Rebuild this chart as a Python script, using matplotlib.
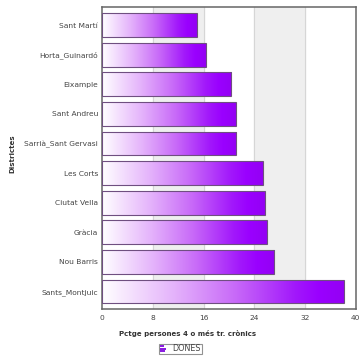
import numpy as np
import matplotlib
matplotlib.use("Agg")
import matplotlib.pyplot as plt
from matplotlib.colors import LinearSegmentedColormap
from matplotlib.patches import Rectangle
from matplotlib.legend_handler import HandlerBase

# Data: share of women with 4 or more chronic conditions, by district
districts = ["Sant Martí", "Horta_Guinardó", "Eixample", "Sant Andreu",
             "Sarrià_Sant Gervasi", "Les Corts", "Ciutat Vella", "Gràcia",
             "Nou Barris", "Sants_Montjuic"]
dones = [15.0, 16.4, 20.4, 21.1, 21.2, 25.4, 25.7, 26.0, 27.2, 38.2]
xticks = [0, 8, 16, 24, 32, 40]

plt.rcParams["font.family"] = ["DejaVu Sans"]

fig = plt.figure(figsize=(3.6, 3.61), dpi=100)
ax = fig.add_axes([0.284, 0.1432, 0.7035, 0.8366])

# horizontal gradient white -> violet applied along each bar
grad = LinearSegmentedColormap.from_list(
    "violet", [(0.0, "#ffffff"), (0.3, "#e4b2fb"), (0.55, "#c86af8"),
               (0.8, "#a218fb"), (0.9, "#9a00ff"), (1.0, "#9400f4")])

# alternating bands and vertical grid
for lo, hi in [(8, 16), (24, 32)]:
    ax.axvspan(lo, hi, color="#efefef", zorder=0)
for t in xticks[1:-1]:
    ax.axvline(t, color="#d6d6d6", lw=0.8, zorder=0.5)

ypos = np.arange(len(districts))
bars = ax.barh(ypos, dones, height=0.8, facecolor="none",
               edgecolor="#6f4f80", linewidth=0.8, zorder=3)

g = np.linspace(0, 1, 256).reshape(1, -1)
for p in bars.patches:
    x0, y0 = p.get_x(), p.get_y()
    w, h = p.get_width(), p.get_height()
    im = ax.imshow(g, cmap=grad, aspect="auto", interpolation="bicubic",
                   extent=[x0, x0 + w, y0 + h, y0], zorder=2)
    im.set_clip_path(p)

ax.set_xlim(0, 40)
ax.set_ylim(len(districts) - 0.4, -0.6)
ax.set_xticks(xticks)
ax.set_xticklabels([str(t) for t in xticks])
ax.set_yticks(ypos)
ax.set_yticklabels(districts)
ax.tick_params(axis="both", length=0, labelsize=5.4, colors="#444444")
ax.tick_params(axis="x", pad=4)
ax.tick_params(axis="y", pad=3)
for s in ax.spines.values():
    s.set_color("#666666")
    s.set_linewidth(1.1)

ax.set_xlabel("Pctge persones 4 o més tr. crònics", fontsize=5.0,
              fontweight="bold", color="#333333")
ax.xaxis.set_label_coords(0.335, -0.068)
ax.xaxis.label.set_va("top")
ax.set_ylabel("Districtes", fontsize=5.0, fontweight="bold", color="#333333")
ax.yaxis.set_label_coords(-0.343, 0.514)


class BarsIcon(HandlerBase):
    """Small horizontal-bar glyph for the legend entry."""
    def create_artists(self, legend, orig_handle, xdescent, ydescent,
                       width, height, fontsize, trans):
        arts = []
        lens = [0.55, 0.9, 0.7]
        hh = height / 3.0
        for i, ln in enumerate(lens):
            r = Rectangle((-xdescent, -ydescent + height - (i + 1) * hh + hh * 0.1),
                          width * ln, hh * 0.8, facecolor="#8a1ee0",
                          edgecolor="none", transform=trans)
            arts.append(r)
        return arts


handle = Rectangle((0, 0), 1, 1)
leg = fig.legend([handle], ["DONES"], handler_map={Rectangle: BarsIcon()},
                 loc="center", bbox_to_anchor=(0.501, 0.0335),
                 fontsize=5.8, frameon=True, fancybox=False, shadow=False,
                 handlelength=0.9, handleheight=1.1, handletextpad=0.7,
                 borderpad=0.1, borderaxespad=0, labelcolor="#444444")
leg.get_frame().set_edgecolor("#777777")
leg.get_frame().set_linewidth(0.8)

fig.savefig("out.png", dpi=100)
